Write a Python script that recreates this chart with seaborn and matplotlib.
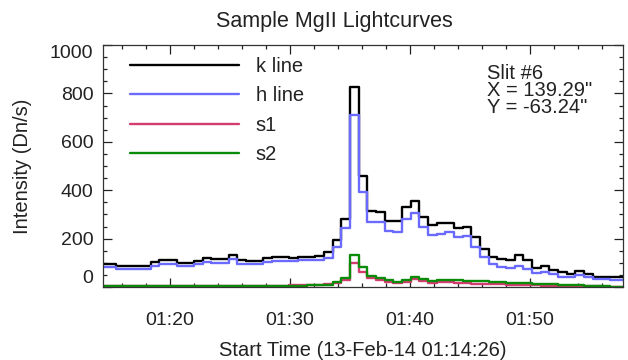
import matplotlib
matplotlib.use("Agg")
import matplotlib.pyplot as plt
import matplotlib.dates as mdates
import numpy as np
import pandas as pd
import seaborn as sns

# Raster timing: one spectrum every ~43.3 s starting at 01:14:26
start_time = "2014-02-13 01:14:26"
cadence_s = 43.3
n_steps = 61

# Integrated Mg II intensities (Dn/s) per raster step
k_line = [97, 97, 88, 88, 88, 88, 103, 110, 110, 99,
          99, 106, 118, 115, 115, 132, 112, 108, 108, 118,
          122, 122, 118, 125, 125, 127, 146, 196, 282, 828,
          460, 315, 311, 274, 274, 332, 357, 291, 257, 265,
          266, 242, 250, 205, 156, 123, 116, 112, 132, 112,
          77, 87, 70, 63, 54, 67, 52, 43, 40, 40,
          43]
h_line = [84, 84, 76, 76, 76, 76, 88, 94, 94, 87,
          87, 94, 105, 100, 100, 116, 95, 94, 94, 105,
          109, 109, 109, 112, 112, 112, 120, 167, 242, 711,
          391, 270, 268, 230, 229, 279, 305, 247, 215, 218,
          226, 205, 211, 167, 125, 95, 81, 77, 87, 73,
          57, 63, 52, 43, 40, 50, 40, 34, 33, 30,
          30]
s1 = [4, 4, 3, 3, 3, 3, 4, 4, 4, 4,
      4, 5, 5, 5, 5, 6, 5, 5, 5, 6,
      6, 6, 7, 7, 8, 9, 12, 18, 29, 100,
      61, 36, 29, 22, 18, 22, 33, 26, 18, 19,
      19, 16, 15, 14, 12, 12, 11, 9, 8, 8,
      7, 6, 6, 5, 4, 4, 3, 3, 2, 2,
      2]
s2 = [4, 4, 3, 3, 3, 3, 4, 4, 4, 4,
      4, 4, 5, 5, 5, 5, 5, 5, 5, 5,
      5, 6, 6, 6, 7, 9, 10, 22, 38, 132,
      84, 45, 36, 29, 22, 29, 43, 33, 25, 29,
      29, 27, 26, 25, 24, 22, 20, 18, 17, 15,
      13, 12, 11, 10, 8, 7, 6, 5, 3, 2,
      1]

series_names = ["k line", "h line", "s1", "s2"]
series_colors = ["#000000", "#6a6aff", "#d23c6e", "#0a8c0a"]

times = pd.Timestamp(start_time) + pd.to_timedelta(np.arange(n_steps) * cadence_s, unit="s")
wide = pd.DataFrame({"time": times, "k line": k_line, "h line": h_line,
                     "s1": s1, "s2": s2})
long = wide.melt(id_vars="time", var_name="series", value_name="intensity")

sns.set_style("ticks")
plt.rcParams["font.family"] = ["Liberation Sans", "DejaVu Sans"]
text_color = "#222222"
plt.rcParams["text.color"] = text_color
plt.rcParams["axes.labelcolor"] = text_color
plt.rcParams["xtick.color"] = text_color
plt.rcParams["ytick.color"] = text_color

fig = plt.figure(figsize=(6.28, 3.60), dpi=100)
ax = fig.add_axes([103 / 628, 1 - 287 / 360, 520 / 628, 242 / 360])

sns.lineplot(data=long, x="time", y="intensity", hue="series",
             hue_order=series_names, palette=dict(zip(series_names, series_colors)),
             drawstyle="steps-mid", linewidth=1.7, errorbar=None,
             legend=False, ax=ax)

ax.set_xlim(times[0], times[-1])
ax.set_ylim(0, 1000)

ax.xaxis.set_major_locator(mdates.MinuteLocator(byminute=[0, 10, 20, 30, 40, 50]))
ax.xaxis.set_minor_locator(mdates.MinuteLocator(byminute=range(0, 60, 2)))
ax.xaxis.set_major_formatter(mdates.DateFormatter("%H:%M"))
ax.set_yticks([0, 200, 400, 600, 800, 1000])
ax.yaxis.set_minor_locator(matplotlib.ticker.MultipleLocator(50))

ax.tick_params(which="both", direction="in", top=True, right=True,
               labelsize=14, colors=text_color)
ax.tick_params(which="major", length=6.5, width=0.9)
ax.tick_params(which="minor", length=3.2, width=0.9)
ax.tick_params(axis="x", which="major", pad=18)
ax.tick_params(axis="y", which="major", pad=7)
for sp in ax.spines.values():
    sp.set_linewidth(0.9)
    sp.set_color("#333333")

yt = ax.yaxis.get_major_ticks()
yt[0].label1.set_verticalalignment("bottom")
yt[-1].label1.set_verticalalignment("top")

ax.set_xlabel("Start Time (13-Feb-14 01:14:26)", fontsize=14.5)
ax.set_ylabel("Intensity (Dn/s)", fontsize=14.5)
ax.xaxis.set_label_coords(0.5, (287 - 350) / 242)
ax.xaxis.label.set_verticalalignment("center")
ax.yaxis.set_label_coords((23 - 103) / 520, 0.5)
ax.yaxis.label.set_verticalalignment("center")

handles = ax.get_lines()[:4]
ax.legend(handles, series_names, loc="upper left",
          bbox_to_anchor=((130 - 103) / 520, (287 - 57) / 242),
          frameon=False, fontsize=14.5, handlelength=5.4, handletextpad=0.85,
          labelspacing=0.52, borderpad=0, borderaxespad=0)

ax.text((487 - 103) / 520, (287 - 64) / 242,
        "Slit #6\nX = 139.29\"\nY = -63.24\"",
        transform=ax.transAxes, ha="left", va="top", fontsize=14.5,
        linespacing=0.88, color=text_color)

fig.text(334 / 628, 1 - 22 / 360, "Sample MgII Lightcurves",
         ha="center", va="center", fontsize=15.5, color=text_color)

fig.savefig("out.png", dpi=100)
